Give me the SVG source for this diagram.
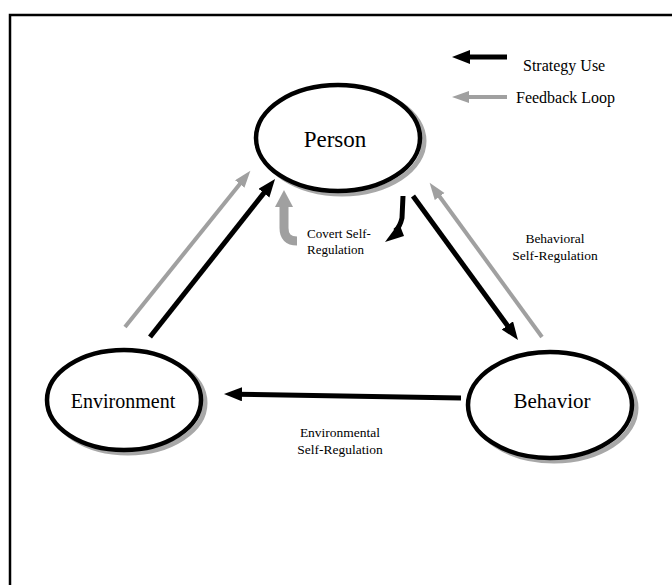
<svg xmlns="http://www.w3.org/2000/svg" width="672" height="585" viewBox="0 0 672 585">
<style>
.node{fill:#fff;stroke:#000;stroke-width:4.5}
.shadow{fill:none;stroke:#a8a8a8;stroke-width:5}
.t{font-family:"Liberation Serif","Times New Roman",serif;fill:#000}
.blk{stroke:#000;stroke-width:5;fill:none}
.gry{stroke:#a0a0a0;stroke-width:4;fill:none}
</style>
<defs>
<marker id="hb" markerUnits="userSpaceOnUse" markerWidth="20" markerHeight="16" refX="6" refY="7" orient="auto">
<path d="M0,0 L18,7 L0,14 z" fill="#000"/>
</marker>
<marker id="hg" markerUnits="userSpaceOnUse" markerWidth="20" markerHeight="14" refX="6" refY="6" orient="auto">
<path d="M0,0 L17,6 L0,12 z" fill="#a0a0a0"/>
</marker>
</defs>
<rect x="10" y="15" width="680" height="600" fill="none" stroke="#000" stroke-width="2.5"/>
<g id="legend">
<line class="blk" x1="507" y1="57" x2="464" y2="57" marker-end="url(#hb)"/>
<text class="t" x="523" y="71" font-size="16">Strategy Use</text>
<line class="gry" x1="507" y1="97" x2="463" y2="97" marker-end="url(#hg)"/>
<text class="t" x="516" y="103" font-size="16">Feedback Loop</text>
</g>
<g id="connectors">
<line class="gry" x1="125" y1="327" x2="243.5" y2="179.4" marker-end="url(#hg)"/>
<line class="blk" x1="150" y1="337" x2="267.6" y2="188.4" marker-end="url(#hb)"/>
<line class="blk" x1="413" y1="196" x2="510.9" y2="330.3" marker-end="url(#hb)"/>
<line class="gry" x1="542" y1="337" x2="436.1" y2="191.7" marker-end="url(#hg)"/>
<line class="blk" x1="461" y1="398" x2="236" y2="394.2" marker-end="url(#hb)"/>
<path d="M297,241 Q284,241 284,228 L284,206" stroke="#a0a0a0" stroke-width="9" fill="none"/>
<path d="M275,207 L284,190 L293,207 z" fill="#a0a0a0"/>
<path d="M403,196 L402,218 Q400,227 395,231" stroke="#000" stroke-width="5" fill="none"/>
<path d="M399,223 L385,242 L404,236 z" fill="#000"/>
</g>
<g id="person">
<ellipse class="shadow" cx="342" cy="141" rx="82" ry="53"/>
<ellipse class="node" cx="338" cy="138" rx="82" ry="53"/>
<text class="t" x="335" y="147" font-size="23" text-anchor="middle">Person</text>
</g>
<g id="environment">
<ellipse class="shadow" cx="128" cy="403" rx="77" ry="50"/>
<ellipse class="node" cx="124" cy="400" rx="77" ry="50"/>
<text class="t" x="123" y="408" font-size="20" text-anchor="middle">Environment</text>
</g>
<g id="behavior">
<ellipse class="shadow" cx="554" cy="408" rx="82" ry="53"/>
<ellipse class="node" cx="550" cy="405" rx="82" ry="53"/>
<text class="t" x="552" y="408" font-size="21" text-anchor="middle">Behavior</text>
</g>
<g id="labels">
<text class="t" x="307" y="238" font-size="13">Covert Self-</text>
<text class="t" x="307" y="254" font-size="13">Regulation</text>
<text class="t" x="555" y="243" font-size="13.5" text-anchor="middle">Behavioral</text>
<text class="t" x="555" y="260" font-size="13.5" text-anchor="middle">Self-Regulation</text>
<text class="t" x="340" y="437" font-size="13.5" text-anchor="middle">Environmental</text>
<text class="t" x="340" y="454" font-size="13.5" text-anchor="middle">Self-Regulation</text>
</g>
</svg>
